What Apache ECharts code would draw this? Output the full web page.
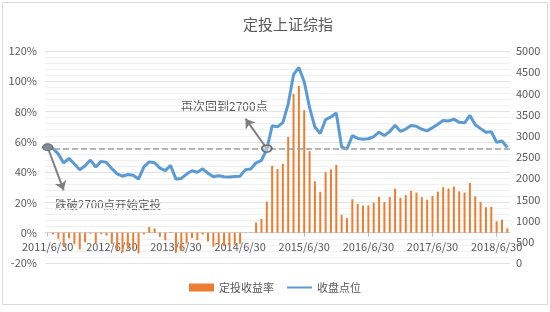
<!DOCTYPE html>
<html><head><meta charset="utf-8">
<script src="https://cdn.jsdelivr.net/npm/echarts@6/dist/echarts.min.js"></script>
<style>html,body{margin:0;padding:0;background:#fff}#c{width:550px;height:312px}</style>
</head><body><div id="c"></div>
<script>
const categories = [
'2011/6/30','2011/7/31','2011/8/31','2011/9/30','2011/10/31','2011/11/30','2011/12/31',
'2012/1/31','2012/2/29','2012/3/31','2012/4/30','2012/5/31','2012/6/30','2012/7/31','2012/8/31','2012/9/30','2012/10/31','2012/11/30','2012/12/31',
'2013/1/31','2013/2/28','2013/3/31','2013/4/30','2013/5/31','2013/6/30','2013/7/31','2013/8/31','2013/9/30','2013/10/31','2013/11/30','2013/12/31',
'2014/1/31','2014/2/28','2014/3/31','2014/4/30','2014/5/31','2014/6/30','2014/7/31','2014/8/31','2014/9/30','2014/10/31','2014/11/30','2014/12/31',
'2015/1/31','2015/2/28','2015/3/31','2015/4/30','2015/5/31','2015/6/30','2015/7/31','2015/8/31','2015/9/30','2015/10/31','2015/11/30','2015/12/31',
'2016/1/31','2016/2/29','2016/3/31','2016/4/30','2016/5/31','2016/6/30','2016/7/31','2016/8/31','2016/9/30','2016/10/31','2016/11/30','2016/12/31',
'2017/1/31','2017/2/28','2017/3/31','2017/4/30','2017/5/31','2017/6/30','2017/7/31','2017/8/31','2017/9/30','2017/10/31','2017/11/30','2017/12/31',
'2018/1/31','2018/2/28','2018/3/31','2018/4/30','2018/5/31','2018/6/30','2018/7/31','2018/8/31'
];
// 定投收益率 (%)
const returnRate = [
0,-1.1,-4.0,-8.9,-3.7,-7.5,-11.0,
-6.3,-0.7,-6.7,-1.0,-1.9,-7.4,-11.6,-13.0,-10.6,-10.7,-13.7,-1.1,
3.8,2.8,-2.7,-5.0,0.4,-13.1,-12.0,-7.1,-3.6,-4.9,-1.3,-5.8,
-9.2,-7.9,-8.7,-8.7,-7.9,-7.3,-0.3,0.3,6.8,9.1,20.5,44.2,
42.1,45.5,63.3,91.6,96.9,80.9,53.9,33.9,27.0,40.0,41.8,44.8,
11.8,9.6,22.1,19.1,17.9,18.1,19.8,23.7,20.2,23.6,29.1,23.0,
24.8,27.7,26.5,23.5,21.7,24.3,27.1,30.1,29.2,30.5,27.3,26.5,
32.8,24.0,20.3,16.8,17.1,7.6,8.6,2.9
];
// 收盘点位
const closeIndex = [
2762,2701,2568,2359,2468,2333,2199,
2292,2428,2263,2397,2373,2225,2103,2047,2086,2069,1980,2269,
2385,2366,2237,2178,2301,1979,1994,2098,2175,2142,2221,2116,
2033,2056,2033,2026,2039,2048,2202,2217,2364,2420,2683,3235,
3210,3310,3748,4442,4612,4277,3664,3206,3053,3383,3445,3539,
2738,2688,3004,2938,2917,2930,2979,3085,3005,3100,3250,3104,
3159,3242,3223,3155,3117,3192,3273,3361,3349,3393,3317,3307,
3481,3259,3169,3082,3095,2847,2876,2725
];
const baseLevel = 2700;
const leftTicks = {min:-20, max:120, interval:20};
const rightTicks = {min:0, max:5000, interval:500};

const FONT = '"Noto Sans CJK SC", "Noto Sans", sans-serif';
const TXT = '#595959';
const GRID = {left:45, right:40, top:51, bottom:49};
const plotH = 312 - GRID.top - GRID.bottom;
// shift the category axis up so that it sits on the 0% line of the left axis
const zeroOffset = -plotH * (0 - leftTicks.min) / (leftTicks.max - leftTicks.min);
const chart = echarts.init(document.getElementById('c'), null, {renderer:'canvas'});
const showIdx = (i) => i % 12 === 0;
chart.setOption({
  animation:false,
  textStyle:{fontFamily:FONT},
  title:{text:'定投上证综指', left:238, top:12, textStyle:{fontSize:15, fontWeight:'normal', color:TXT, fontFamily:FONT}},
  grid:GRID,
  legend:{bottom:14, left:'center', itemWidth:25, itemHeight:8, itemGap:12,
    textStyle:{fontSize:11, color:TXT, fontFamily:FONT},
    data:[{name:'定投收益率', icon:'rect'}, {name:'收盘点位', itemStyle:{opacity:0}}]},
  xAxis:{type:'category', data:categories, boundaryGap:true, position:'bottom', offset:zeroOffset,
    axisLine:{onZero:false, lineStyle:{color:'#d0d0d0'}},
    axisTick:{show:true, alignWithLabel:true, interval:(i)=>showIdx(i), length:4, lineStyle:{color:'#bfbfbf'}},
    axisLabel:{interval:(i)=>showIdx(i), fontSize:11, color:TXT, margin:9, fontFamily:FONT}},
  yAxis:[
    {type:'value', min:leftTicks.min, max:leftTicks.max, interval:leftTicks.interval,
      axisLabel:{formatter:'{value}%', fontSize:11, color:TXT, margin:8, fontFamily:FONT},
      axisLine:{show:false}, axisTick:{show:false},
      splitLine:{lineStyle:{color:'#e3e3e3'}},
      minorTick:{show:false, splitNumber:5},
      minorSplitLine:{show:true, lineStyle:{color:'#f0f0f0'}}},
    {type:'value', min:rightTicks.min, max:rightTicks.max, interval:rightTicks.interval,
      axisLabel:{formatter:(v)=>String(v), fontSize:11, color:TXT, margin:6, fontFamily:FONT},
      axisLine:{show:false}, axisTick:{show:false}, splitLine:{show:false}}
  ],
  series:[
    {name:'定投收益率', type:'bar', data:returnRate, yAxisIndex:0, barWidth:2,
      itemStyle:{color:'#ED7D31'}},
    {name:'收盘点位', type:'line', data:closeIndex, yAxisIndex:1, symbol:'none',
      lineStyle:{color:'#5B9BD5', width:3}, itemStyle:{color:'#5B9BD5'}, z:3,
      markLine:{silent:true, label:{show:false}, symbol:['none','none'],
        data:[
          {yAxis:baseLevel, lineStyle:{type:'dashed', color:'#a0a0a0', width:1.5}},
          [{coord:[categories[0], 2730], symbol:'none', lineStyle:{type:'solid', color:'#7f7f7f', width:2}},
           {coord:[categories[3], 1714], symbol:'arrow', symbolSize:9}],
          [{coord:[categories[41], 2700], symbol:'none', lineStyle:{type:'solid', color:'#7f7f7f', width:2}},
           {coord:[categories[37], 3404], symbol:'arrow', symbolSize:9}]
        ]},
      markPoint:{silent:true, label:{show:false},
        data:[
          {coord:[categories[0], 2730], symbol:'circle', symbolSize:[10,7], itemStyle:{color:'#7f8a94', borderColor:'#6b6b6b', borderWidth:1}},
          {coord:[categories[41], 2700], symbol:'circle', symbolSize:[10,7], itemStyle:{color:'rgba(210,215,220,0.6)', borderColor:'#6b6b6b', borderWidth:1.5}}
        ]}
    }
  ],
  graphic:[
    {type:'rect', shape:{x:2.5, y:2.5, width:545, height:302}, style:{fill:'none', stroke:'#d9d9d9', lineWidth:1}, silent:true, z:-10},
    {type:'text', left:181, top:100, style:{text:'再次回到2700点', fontSize:12, fill:TXT, fontFamily:FONT}},
    {type:'text', left:55, top:199, style:{text:'跌破2700点开始定投', fontSize:11.5, fill:TXT, fontFamily:FONT}}
  ]
});
</script></body></html>
